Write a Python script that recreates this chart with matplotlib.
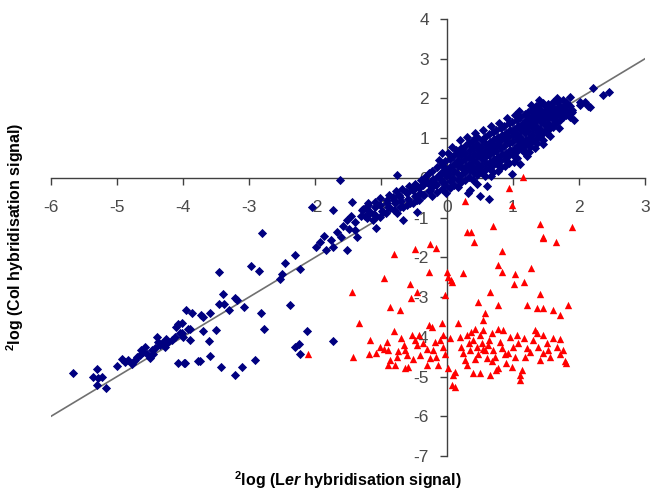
import numpy as np
import matplotlib.pyplot as plt

plt.rcParams['font.family'] = ['Liberation Sans', 'DejaVu Sans']
plt.rcParams['axes.unicode_minus'] = False
plt.rcParams['mathtext.fontset'] = 'custom'
plt.rcParams['mathtext.rm'] = 'Liberation Sans:bold'
plt.rcParams['mathtext.it'] = 'Liberation Sans:bold:italic'
plt.rcParams['mathtext.bf'] = 'Liberation Sans:bold'

# blue diamonds: long tail below the origin
blue_tail = [
    (-5.67, -4.92), (-5.31, -4.81), (-5.36, -5.01), (-5.29, -5.04), (-5.23, -5.01),
    (-5.31, -5.21), (-5.16, -5.29), (-5.00, -4.74), (-4.93, -4.57), (-4.88, -4.63),
    (-4.83, -4.58), (-4.78, -4.69), (-4.73, -4.58), (-4.70, -4.50), (-4.65, -4.46),
    (-4.63, -4.33), (-4.58, -4.25), (-4.55, -4.42), (-4.50, -4.54), (-4.45, -4.42),
    (-4.42, -4.29), (-4.40, -4.00), (-4.38, -4.12), (-4.32, -4.16), (-4.27, -4.25),
    (-4.22, -4.12), (-4.17, -4.08), (-4.12, -4.00), (-4.10, -3.75), (-4.07, -3.68),
    (-4.05, -3.91), (-4.00, -4.00), (-3.95, -3.32), (-3.86, -3.41), (-3.89, -4.08),
    (-3.92, -3.81), (-4.07, -4.65), (-3.98, -4.65), (-3.77, -4.61), (-4.47, -4.33),
    (-4.35, -4.20), (-4.60, -4.38), (-4.25, -4.05),
    (-2.81, -1.39), (-3.46, -2.36), (-2.97, -2.22), (-2.85, -2.34), (-2.46, -2.13),
    (-2.30, -1.94), (-2.53, -2.54), (-2.50, -2.42), (-2.23, -2.29), (-1.98, -1.73),
    (-1.93, -1.60), (-1.83, -1.81), (-1.76, -1.56), (-1.73, -1.73), (-1.72, -0.81),
    (-2.05, -0.72), (-3.39, -2.93), (-3.21, -3.01), (-3.18, -3.06), (-3.45, -3.17),
    (-3.38, -3.17), (-3.30, -3.32), (-3.08, -3.24), (-2.82, -3.39), (-2.78, -3.81),
    (-2.38, -3.21), (-2.12, -3.85), (-2.30, -4.26), (-2.24, -4.18), (-2.23, -4.42),
    (-1.72, -4.11), (-2.91, -4.58), (-3.11, -4.77), (-3.21, -4.95), (-3.42, -4.77),
    (-3.74, -4.60), (-3.59, -4.48), (-3.61, -4.10), (-3.50, -3.83), (-3.69, -3.85),
    (-3.89, -3.81), (-3.72, -3.45), (-3.70, -3.49), (-3.59, -3.41), (-3.97, -4.67),
    (-4.02, -3.91), (-4.02, -3.66),
    (-1.62, -0.05), (-0.76, 0.08), (-1.44, -0.61), (-1.39, -1.10), (-1.39, -1.31),
    (-1.37, -1.49), (-1.52, -1.81), (-1.87, -1.45), (-1.66, -1.36), (-1.58, -1.20),
    (-1.52, -1.05), (-1.48, -1.28), (-1.60, -1.48), (-1.45, -0.95),
]

# blue diamonds: dense band around the diagonal
blue_core = [
    (-1.29, -0.81), (-1.22, -0.76), (-1.17, -0.89), (-1.09, -0.72), (-1.07, -0.97),
    (-1.02, -0.68), (-0.97, -0.85), (-0.91, -0.64), (-0.86, -0.76), (-0.81, -0.55),
    (-0.76, -0.89), (-0.71, -0.47), (-0.66, -0.72), (-0.61, -0.39), (-0.56, -0.64),
    (-0.51, -0.30), (-0.46, -0.55), (-0.41, -0.22), (-0.36, -0.43), (-0.31, -0.09),
    (-0.26, -0.30), (-0.21, -0.05), (-0.16, -0.18), (-0.11, 0.08), (-0.06, -0.09),
    (0.00, 0.20), (-1.07, -1.27), (-0.66, -1.06), (-0.46, -0.85), (-1.19, -0.64),
    (-1.24, -0.97), (-1.12, -1.06),
    (-1.31, -0.95), (-1.28, -0.78), (-1.21, -1.00), (-1.18, -0.84), (-1.20, -0.68),
    (-1.11, -0.92), (-1.09, -0.60), (-1.01, -0.98), (-0.99, -0.82), (-1.02, -0.50),
    (-0.92, -0.88), (-0.89, -0.72), (-0.91, -0.56), (-0.88, -0.42), (-0.81, -0.80),
    (-0.79, -0.64), (-0.82, -0.48), (-0.78, -0.33), (-0.71, -0.74), (-0.69, -0.58),
    (-0.72, -0.42), (-0.68, -0.28), (-0.61, -0.68), (-0.59, -0.52), (-0.62, -0.36),
    (-0.58, -0.20), (-0.51, -0.62), (-0.49, -0.46), (-0.52, -0.30), (-0.48, -0.14),
    (-0.43, -0.55), (-0.41, -0.38), (-0.44, -0.22), (-0.40, -0.06),
    (-0.35, -0.42), (-0.36, -0.18), (-0.34, 0.02), (-0.28, -0.33), (-0.29, -0.12),
    (-0.27, 0.12), (-0.22, -0.46), (-0.23, -0.24), (-0.21, -0.02), (-0.22, 0.18),
    (-0.15, -0.36), (-0.16, -0.15), (-0.14, 0.05), (-0.15, 0.28), (-0.08, -0.28),
    (-0.09, -0.06), (-0.07, 0.14), (-0.08, 0.33), (-0.02, -0.38), (-0.03, -0.17),
    (-0.01, 0.04), (-0.02, 0.22), (-0.03, 0.42), (0.04, -0.25), (0.05, -0.08),
    (0.03, 0.09), (0.04, 0.27), (0.05, 0.48), (0.10, -0.18), (0.09, 0.00),
    (0.11, 0.17), (0.10, 0.34), (0.09, 0.55), (0.16, -0.22), (0.17, -0.05),
    (0.15, 0.12), (0.16, 0.29), (0.17, 0.44), (0.15, 0.62), (0.22, -0.10),
    (0.21, 0.08), (0.23, 0.24), (0.22, 0.40), (0.21, 0.57), (0.23, 0.72),
    (0.28, -0.04), (0.27, 0.14), (0.29, 0.31), (0.28, 0.47), (0.27, 0.63),
    (0.29, 0.84), (0.34, 0.03), (0.35, 0.20), (0.33, 0.36), (0.34, 0.53),
    (0.35, 0.70), (0.33, 0.88), (0.40, -0.06), (0.41, 0.12), (0.39, 0.27),
    (0.40, 0.44), (0.41, 0.60), (0.39, 0.77), (0.40, 0.95), (0.46, 0.08),
    (0.47, 0.23), (0.45, 0.38), (0.46, 0.55), (0.47, 0.71), (0.45, 0.86),
    (0.46, 1.02), (0.52, 0.14), (0.51, 0.30), (0.53, 0.47), (0.52, 0.62),
    (0.51, 0.79), (0.53, 0.96), (0.58, 0.05), (0.57, 0.21), (0.59, 0.37),
    (0.58, 0.53), (0.57, 0.69), (0.59, 0.85), (0.58, 1.04), (0.64, 0.25),
    (0.65, 0.41), (0.63, 0.58), (0.64, 0.74), (0.65, 0.90), (0.63, 1.10),
    (0.70, 0.16), (0.69, 0.32), (0.71, 0.48), (0.70, 0.65), (0.69, 0.80),
    (0.71, 0.97), (0.70, 1.16), (0.76, 0.36), (0.77, 0.52), (0.75, 0.69),
    (0.76, 0.85), (0.77, 1.02), (0.75, 1.20), (0.82, 0.27), (0.81, 0.43),
    (0.83, 0.60), (0.82, 0.76), (0.81, 0.92), (0.83, 1.08), (0.82, 1.26),
    (0.88, 0.47), (0.89, 0.63), (0.87, 0.80), (0.88, 0.97), (0.89, 1.13),
    (0.87, 1.31), (0.94, 0.38), (0.93, 0.54), (0.95, 0.71), (0.94, 0.87),
    (0.93, 1.03), (0.95, 1.20), (0.94, 1.38), (1.00, 0.58), (1.01, 0.74),
    (0.99, 0.90), (1.00, 1.07), (1.01, 1.24), (0.99, 1.42), (1.06, 0.50),
    (1.05, 0.66), (1.07, 0.82), (1.06, 0.98), (1.05, 1.14), (1.07, 1.30),
    (1.06, 1.46), (1.12, 0.72), (1.13, 0.88), (1.11, 1.04), (1.12, 1.20),
    (1.13, 1.37), (1.11, 1.53), (1.18, 0.64), (1.17, 0.80), (1.19, 0.96),
    (1.18, 1.12), (1.17, 1.28), (1.19, 1.45), (1.18, 1.60), (1.24, 0.85),
    (1.25, 1.01), (1.23, 1.17), (1.24, 1.33), (1.25, 1.50), (1.23, 1.66),
    (1.30, 0.93), (1.29, 1.09), (1.31, 1.25), (1.30, 1.41), (1.29, 1.57),
    (1.31, 1.72), (1.36, 1.00), (1.37, 1.16), (1.35, 1.32), (1.36, 1.48),
    (1.37, 1.64), (1.35, 1.80), (1.42, 1.08), (1.41, 1.24), (1.43, 1.40),
    (1.42, 1.56), (1.41, 1.72), (1.43, 1.88), (1.48, 1.17), (1.49, 1.33),
    (1.47, 1.49), (1.48, 1.65), (1.49, 1.81), (1.54, 1.22), (1.53, 1.38),
    (1.55, 1.54), (1.54, 1.70), (1.53, 1.86), (1.60, 1.33), (1.61, 1.48),
    (1.59, 1.63), (1.60, 1.79), (1.66, 1.40), (1.65, 1.56), (1.67, 1.72),
    (1.66, 1.90), (1.72, 1.47), (1.73, 1.62), (1.71, 1.78), (1.80, 1.58),
    (1.79, 1.74), (1.81, 1.90), (1.88, 1.64), (1.87, 1.82),
    (2.22, 2.26), (2.37, 2.09), (2.46, 2.17), (1.86, 2.05), (2.02, 1.84),
    (2.09, 1.92), (2.17, 1.78), (1.89, 1.71), (1.76, 1.96), (1.66, 2.01),
    (1.61, 1.92), (1.71, 1.80), (1.79, 1.84), (1.81, 1.67), (1.74, 1.63),
    (1.64, 1.71), (1.56, 1.80), (1.51, 1.63), (1.46, 1.88), (1.41, 1.71),
    (1.31, 1.76), (1.33, 1.54), (1.26, 1.46), (1.21, 1.38), (1.16, 1.29),
    (1.86, 1.54), (1.76, 1.54), (1.61, 1.29), (1.51, 1.13), (1.46, 0.96),
    (1.36, 0.87), (1.26, 0.79), (1.21, 0.54), (1.16, 0.71), (1.13, 0.96),
    (0.35, -0.30), (0.32, -0.39), (0.50, -0.45), (0.63, -0.53), (0.60, -0.20),
    (0.98, 0.10), (0.20, 0.96), (0.07, 0.79), (-0.08, 0.62), (0.22, 0.75),
    (2.14, 1.80), (2.02, 1.92), (1.89, 1.67),
    (-0.12, 0.45), (0.02, 0.63), (0.13, 0.70), (0.30, 1.02), (0.43, 1.12),
    (0.55, 1.20), (0.67, 1.30), (0.79, 1.38), (0.91, 1.50), (1.03, 1.58),
    (1.09, 1.68), (1.27, 1.84), (1.39, 1.95), (0.45, -0.15), (0.66, 0.05),
    (0.78, 0.18), (0.88, 0.30), (1.02, 0.40), (1.10, 0.36), (1.24, 0.66),
    (1.33, 0.76), (1.45, 0.85), (1.56, 1.05), (1.70, 1.25), (1.92, 1.45),
]

# red triangles
red_pts = [
    (1.15, 0.02), (0.94, -0.26), (0.99, -0.68), (0.28, -0.57), (0.70, -1.20),
    (0.31, -1.37), (0.41, -1.60), (0.83, -1.83), (1.41, -1.16), (1.46, -1.48),
    (1.46, -1.52), (1.65, -1.62), (1.90, -1.24), (-0.26, -1.66), (-0.48, -1.79),
    (-0.81, -1.91), (-0.17, -1.76), (0.36, -1.36),
    (-1.44, -2.86), (-1.33, -3.64), (-0.96, -2.53), (-0.87, -3.26), (-0.71, -3.32),
    (-0.56, -2.67), (-0.46, -2.86), (-0.55, -3.03), (-0.28, -2.36), (-0.03, -2.95),
    (0.00, -2.36), (0.02, -2.49), (0.06, -2.57), (0.07, -2.61), (0.24, -2.40),
    (0.47, -3.13), (0.58, -3.39), (0.54, -3.58), (0.65, -2.86), (0.78, -2.19),
    (0.84, -2.36), (0.78, -3.20), (1.03, -2.42), (1.02, -2.67), (1.16, -2.61),
    (1.28, -2.27), (1.22, -3.20), (1.41, -2.93), (1.36, -3.28), (1.46, -3.27),
    (1.61, -3.32), (1.72, -3.45), (1.84, -3.20),
    (-2.11, -4.44), (-1.43, -4.50), (-1.16, -4.08), (-1.18, -4.42), (-1.08, -4.40),
    (-1.02, -4.26), (-0.91, -4.12), (-0.89, -4.33), (-0.87, -4.58), (-0.90, -4.71),
    (-0.79, -4.71), (-0.76, -4.50), (-0.80, -3.85), (-0.69, -4.04), (-0.65, -4.21),
    (-0.64, -4.33), (-0.61, -4.46), (-0.59, -4.75), (-0.64, -4.79), (-0.53, -3.95),
    (-0.48, -4.08), (-0.45, -4.21), (-0.41, -4.46), (-0.42, -3.95), (-0.36, -4.16),
    (-0.31, -4.31), (-0.31, -4.71), (-0.27, -3.70), (-0.23, -3.75), (-0.21, -4.33),
    (-0.16, -4.50), (-0.13, -4.71), (-0.08, -3.64), (-0.06, -3.95), (-0.06, -4.25),
    (-0.03, -4.42), (-0.11, -4.08), (-0.18, -4.12), (-0.96, -4.30), (-0.74, -4.36),
    (-0.52, -4.55), (-0.26, -4.52),
    (0.02, -4.79), (0.05, -4.04), (0.09, -4.96), (0.12, -4.88), (0.12, -5.26),
    (0.07, -5.21), (0.17, -3.66), (0.20, -4.00), (0.22, -4.25), (0.27, -4.58),
    (0.30, -3.95), (0.35, -4.33), (0.37, -3.87), (0.40, -4.08), (0.42, -3.79),
    (0.45, -4.25), (0.47, -4.42), (0.50, -3.95), (0.53, -4.16), (0.55, -3.83),
    (0.58, -4.33), (0.60, -4.54), (0.63, -4.08), (0.65, -4.96), (0.68, -3.91),
    (0.70, -4.33), (0.73, -4.50), (0.75, -4.84), (0.78, -3.79), (0.80, -4.12),
    (0.83, -4.29), (0.85, -3.83), (0.88, -4.42), (0.90, -4.67), (0.95, -4.00),
    (1.00, -4.25), (1.03, -4.50), (1.06, -3.95), (1.08, -4.16), (1.11, -4.96),
    (1.13, -4.84), (1.16, -4.04), (1.21, -4.29), (1.26, -4.37), (1.31, -4.08),
    (1.33, -3.83), (1.36, -3.91), (1.38, -4.25), (1.41, -4.58), (1.46, -3.95),
    (1.51, -4.16), (1.53, -4.33), (1.56, -4.50), (1.61, -4.04), (1.66, -4.25),
    (1.71, -4.42), (1.76, -4.33), (1.79, -4.62), (1.81, -4.67), (0.30, -4.71),
    (0.40, -4.92), (0.50, -4.92), (0.78, -4.79), (1.11, -5.09), (0.25, -4.40),
    (0.33, -4.15), (0.43, -4.55), (0.55, -4.30), (0.62, -4.20), (0.68, -4.62),
    (0.93, -4.40), (0.98, -4.75), (1.18, -4.50), (1.45, -4.40), (1.72, -4.05),
]

line_x = [-6, 3]
line_y = [-6, 3]

xticks = list(range(-6, 4))
yticks = list(range(-7, 5))

blue_x, blue_y = zip(*(blue_tail + blue_core))
red_x, red_y = zip(*red_pts)

fig = plt.figure(figsize=(6.58, 4.96), dpi=100)
ax = fig.add_axes([0.0775, 0.0806, 0.9027, 0.881])

ax.plot(line_x, line_y, color='#707070', lw=1.2, zorder=2)
ax.scatter(blue_x, blue_y, marker='D', s=22, color='#000080', linewidths=0, zorder=3)
ax.scatter(red_x, red_y, marker='^', s=28, color='#ff0000', linewidths=0, zorder=3)

ax.set_xlim(-6, 3)
ax.set_ylim(-7, 4)
ax.spines['left'].set_position(('data', 0))
ax.spines['bottom'].set_position(('data', 0))
ax.spines['top'].set_visible(False)
ax.spines['right'].set_visible(False)
for s in ['left', 'bottom']:
    ax.spines[s].set_color('#404040')
    ax.spines[s].set_linewidth(1.0)

ax.set_xticks(xticks)
ax.set_yticks(yticks)
ax.tick_params(axis='x', direction='out', length=5, width=1, color='#404040',
               pad=11, labelsize=12.5, labelcolor='#4a4a4a')
ax.tick_params(axis='y', direction='out', length=5, width=1, color='#404040',
               pad=8, labelsize=12.5, labelcolor='#4a4a4a')

fig.text(0.529, 0.032, r'$^{2}$log (L$\mathit{er}$ hybridisation signal)',
         ha='center', va='center', fontsize=11.5, fontweight='bold')
fig.text(0.023, 0.522, r'$^{2}$log (Col hybridisation signal)',
         ha='center', va='center', rotation=90, fontsize=11.5, fontweight='bold')

plt.savefig('out.png', dpi=100)
